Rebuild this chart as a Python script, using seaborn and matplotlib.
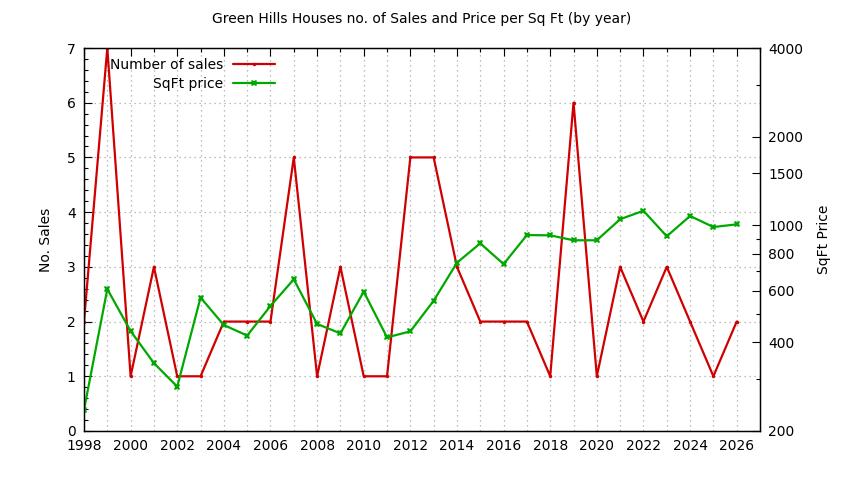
import matplotlib
matplotlib.use("Agg")
import matplotlib.pyplot as plt
from matplotlib.ticker import FixedLocator, MultipleLocator, NullFormatter
import pandas as pd
import seaborn as sns

# data
years = list(range(1998, 2027))
sales = [2, 7, 1, 3, 1, 1, 2, 2, 2, 5, 1, 3, 1, 1, 5, 5, 3,
         2, 2, 2, 1, 6, 1, 3, 2, 3, 2, 1, 2]
sqft_price = [236, 607, 437, 340, 283, 568, 458, 422, 532, 655, 462, 429, 595, 416, 436, 554, 746,
              868, 738, 926, 924, 889, 889, 1048, 1120, 917, 1075, 986, 1007]

df = pd.DataFrame({'year': years, 'sales': sales, 'price': sqft_price})

red = '#d00000'
green = '#00a800'

sns.set_style('white')
plt.rcParams['font.family'] = ['DejaVu Sans']
plt.rcParams['text.color'] = 'black'
plt.rcParams['axes.labelcolor'] = 'black'
plt.rcParams['xtick.color'] = 'black'
plt.rcParams['ytick.color'] = 'black'

fig = plt.figure(figsize=(8.44, 4.8), dpi=100)
ax = fig.add_axes([84/844, 1-431/480, 676/844, 383/480])
ax2 = ax.twinx()

sns.lineplot(data=df, x='year', y='sales', ax=ax, color=red, lw=1.6,
             marker='.', markersize=5, markeredgewidth=0, label='Number of sales', legend=False)
sns.lineplot(data=df, x='year', y='price', ax=ax2, color=green, lw=1.6,
             marker='X', markersize=5, markeredgewidth=0, label='SqFt price', legend=False)

ax.set_xlim(1998, 2027)
ax.set_ylim(0, 7)
ax.xaxis.set_major_locator(MultipleLocator(2))
ax.xaxis.set_minor_locator(MultipleLocator(1))
ax.yaxis.set_major_locator(MultipleLocator(1))
ax.yaxis.set_minor_locator(MultipleLocator(0.2))
ax.grid(True, which='both', axis='x', color='#a8a8a8', ls=(0, (1, 3)), lw=0.9)
ax.grid(True, which='major', axis='y', color='#a8a8a8', ls=(0, (1, 3)), lw=0.9)
ax.tick_params(axis='x', which='both', direction='in', top=True, labelsize=10, pad=6)
ax.tick_params(axis='y', which='both', direction='in', right=False, labelsize=10, pad=6)
ax.tick_params(which='major', length=6, width=0.8)
ax.tick_params(which='minor', length=3, width=0.8)
ax.set_xlabel('')
ax.set_ylabel('No. Sales', fontsize=10, labelpad=10)

ax2.set_yscale('log')
ax2.set_ylim(200, 4000)
ax2.yaxis.set_major_locator(FixedLocator([200, 400, 600, 800, 1000, 1500, 2000, 4000]))
ax2.yaxis.set_minor_locator(FixedLocator([300, 500, 700, 900, 3000]))
ax2.yaxis.set_major_formatter(matplotlib.ticker.FuncFormatter(lambda v, p: f'{v:.0f}'))
ax2.yaxis.set_minor_formatter(NullFormatter())
ax2.tick_params(axis='y', which='both', direction='in', labelsize=10, pad=6)
ax2.tick_params(which='major', length=6, width=0.8)
ax2.tick_params(which='minor', length=3, width=0.8)
ax2.set_ylabel('SqFt Price', fontsize=10, labelpad=10)

for a in (ax, ax2):
    for s in a.spines.values():
        s.set_color('black')
        s.set_linewidth(0.9)

h1, l1 = ax.get_legend_handles_labels()
h2, l2 = ax2.get_legend_handles_labels()
ax2.legend(h1 + h2, l1 + l2, loc='upper left', bbox_to_anchor=(0.026, 0.995),
           frameon=False, markerfirst=False, fontsize=10, handlelength=3.0,
           handletextpad=0.7, labelspacing=0.35, borderaxespad=0.2)

fig.suptitle('Green Hills Houses no. of Sales and Price per Sq Ft (by year)',
             fontsize=10, y=0.975)

fig.savefig('out.png', dpi=100)
